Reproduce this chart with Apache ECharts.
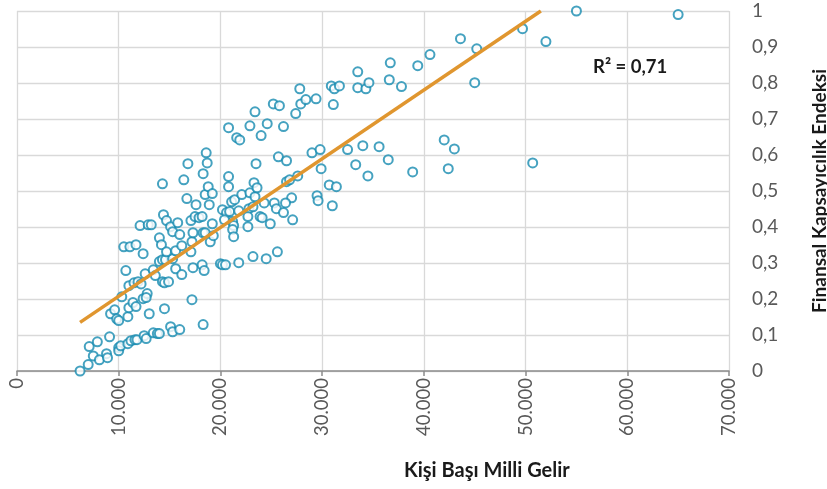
<!DOCTYPE html>
<html>
<head>
<meta charset="utf-8">
<script src="https://cdn.jsdelivr.net/npm/echarts@6/dist/echarts.min.js"></script>
<style>
html,body{margin:0;padding:0;background:#fff;}
#chart{width:827px;height:489px;}
</style>
</head>
<body>
<div id="chart"></div>
<script>
// Kişi Başı Milli Gelir (x) vs Finansal Kapsayıcılık Endeksi (y)
var incomeValues = [
6200,7000,7500,8100,7100,7900,8800,8900,9100,10000,10000,10200,10900,11200,11600,11800,12500,12700,13400,13800,14000,15100,15300,16000,18300,
9200,9600,9800,10000,10900,11000,11400,11700,12400,12800,12700,13000,14500,17200,10300,11000,11500,11900,12200,12600,13400,13600,14300,14500,14900,10700,
14000,14300,14600,15300,15600,16200,17300,18200,18400,20000,20200,20500,21800,23200,24500,25600,
10500,11100,11700,12400,14000,14200,14700,15600,16200,17100,12100,12900,13200,14400,14700,15100,15300,15800,16000,17100,17200,17500,17900,18200,17300,18300,18500,19000,19200,19300,
16700,17600,18900,18500,18800,19200,20800,21100,21400,22100,22900,23400,23300,24300,25300,25500,20200,20600,20900,21200,21300,21200,21300,22800,23200,22700,22700,23900,24100,24900,21800,
14300,16400,16800,18600,18700,18300,20800,20800,21600,21900,22900,23400,24000,24600,25200,25800,23500,23600,25700,26200,27400,27900,27800,28400,29400,30900,31200,31700,31100,33500,33500,34300,34600,
26500,26500,26800,27600,29000,29800,29900,30700,31400,32500,33300,34000,34500,35600,29500,29600,27000,31000,26400,26200,27100,20400,
36700,36600,37800,39400,40600,43600,45200,45000,49700,52000,36500,38900,42000,43000,42400,50700,55000,65000
];
var indexValues = [
0.000,0.018,0.042,0.031,0.068,0.081,0.048,0.037,0.095,0.065,0.056,0.070,0.076,0.084,0.087,0.087,0.098,0.090,0.106,0.104,0.104,0.123,0.109,0.115,0.129,
0.159,0.170,0.145,0.140,0.151,0.176,0.190,0.179,0.201,0.215,0.204,0.159,0.173,0.198,0.206,0.237,0.245,0.248,0.242,0.270,0.281,0.265,0.248,0.245,0.248,0.279,
0.304,0.309,0.309,0.312,0.284,0.268,0.287,0.295,0.279,0.298,0.295,0.295,0.301,0.318,0.312,0.331,
0.345,0.345,0.351,0.326,0.370,0.351,0.331,0.334,0.348,0.331,0.404,0.406,0.406,0.434,0.418,0.401,0.387,0.412,0.379,0.418,0.359,0.429,0.426,0.429,0.384,0.384,0.384,0.359,0.409,0.376,
0.479,0.462,0.462,0.490,0.512,0.493,0.512,0.470,0.476,0.490,0.495,0.484,0.523,0.467,0.467,0.451,0.448,0.440,0.443,0.415,0.404,0.393,0.373,0.451,0.456,0.429,0.401,0.429,0.426,0.409,0.445,
0.520,0.531,0.576,0.606,0.578,0.548,0.540,0.676,0.648,0.642,0.681,0.720,0.654,0.687,0.742,0.737,0.576,0.509,0.595,0.679,0.715,0.742,0.784,0.754,0.756,0.792,0.784,0.792,0.740,0.831,0.787,0.784,0.801,
0.584,0.526,0.531,0.542,0.606,0.615,0.562,0.517,0.512,0.615,0.573,0.626,0.542,0.623,0.487,0.473,0.481,0.459,0.467,0.440,0.420,0.420,
0.856,0.809,0.790,0.848,0.879,0.923,0.895,0.801,0.951,0.915,0.587,0.553,0.642,0.617,0.562,0.578,1.000,0.990
];
// Linear trend line end points (as drawn)
var trendX = [6200, 51500];
var trendY = [0.135, 1.0];
var xTicks = [0,10000,20000,30000,40000,50000,60000,70000];
var yTicks = [0,0.1,0.2,0.3,0.4,0.5,0.6,0.7,0.8,0.9,1];
var rSquaredLabel = 'R² = 0,71';
var xTitle = 'Kişi Başı Milli Gelir';
var yTitle = 'Finansal Kapsayıcılık Endeksi';

var scatterData = incomeValues.map(function(v,i){return [v, indexValues[i]];});
var trendData = trendX.map(function(v,i){return [v, trendY[i]];});

var FONT = 'Lato, "Open Sans", sans-serif';
var chart = echarts.init(document.getElementById('chart'));
chart.setOption({
  backgroundColor:'#ffffff',
  animation:false,
  title:{
    text:xTitle,
    left:399, top:456,
    textStyle:{fontFamily:FONT,fontSize:20,fontWeight:'bold',color:'#1a1a1a'}
  },
  grid:{left:17,right:98,top:11,bottom:118,containLabel:false,outerBoundsMode:'none'},
  xAxis:{
    type:'value', min:0, max:70000, interval:10000,
    axisLine:{show:true,lineStyle:{color:'#8c8c8c',width:1.5}},
    axisTick:{show:true,length:5,lineStyle:{color:'#8c8c8c',width:1.5}},
    splitLine:{show:true,lineStyle:{color:'#d9d9d9',width:1.3}},
    axisLabel:{
      rotate:90, margin:7, fontFamily:FONT, fontSize:18.5, color:'#595959',
      formatter:function(v){return v===0?'0':String(v).replace(/\B(?=(\d{3})+(?!\d))/g,'.');}
    }
  },
  yAxis:{
    type:'value', position:'right', min:0, max:1, interval:0.1,
    axisLine:{show:false}, axisTick:{show:false},
    splitLine:{show:true,lineStyle:{color:'#d9d9d9',width:1.3}},
    axisLabel:{
      margin:23, fontFamily:FONT, fontSize:19, color:'#595959', align:'left',
      formatter:function(v){return String(Math.round(v*10)/10).replace('.',',');}
    },
    name:yTitle, nameLocation:'middle', nameRotate:90, nameGap:81,
    nameTextStyle:{fontFamily:FONT,fontSize:19,fontWeight:'bold',color:'#1a1a1a'}
  },
  graphic:[{
    type:'text', left:593, top:58,
    style:{text:rSquaredLabel,font:'bold 18.5px '+FONT,fill:'#1a1a1a'}
  }],
  series:[
    {
      type:'scatter', data:scatterData, symbol:'circle', symbolSize:9,
      itemStyle:{color:'#ffffff',borderColor:'#168bb0',borderWidth:2},
      z:3
    },
    {
      type:'line', data:trendData, symbol:'none',
      lineStyle:{color:'#e0962f',width:3.5},
      z:4
    }
  ]
});
</script>
</body>
</html>
